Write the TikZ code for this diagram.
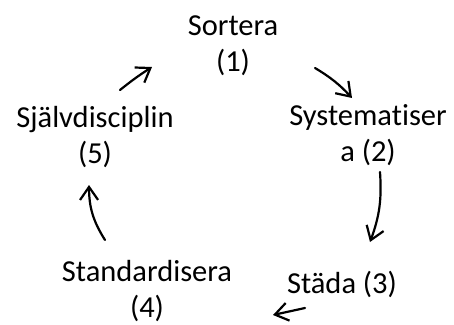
\documentclass[tikz,border=0pt]{standalone}
\usepackage{fontspec}
\setmainfont{Carlito}[Ligatures=NoCommon]
\usetikzlibrary{arrows.meta}
\begin{document}
\begin{tikzpicture}[x=1pt,y=-1pt,
  steptext/.style={font=\fontsize{30.5}{36}\selectfont, align=center, inner sep=0pt, anchor=base},
  cyc/.style={line width=2.2pt, line cap=round,
    -{Straight Barb[length=13pt,width=18pt,line width=2.2pt]}}]
\useasboundingbox (0,0) rectangle (454,324);

% the five steps (anchored at the baseline of the last line)
\node[steptext] (s1) at (233,71)  {Sortera\\(1)};
\node[steptext] (s2) at (368,161) {Systematiser\\a (2)};
\node[steptext] (s3) at (342,293) {Städa (3)};
\node[steptext] (s4) at (147,317) {Standardisera\\(4)};
\node[steptext] (s5) at (95,163)  {Självdisciplin\\(5)};

% arrow end points
\coordinate (a1s) at (315,68);  \coordinate (a1e) at (352,98);
\coordinate (a2s) at (380,172); \coordinate (a2e) at (370,242);
\coordinate (a3s) at (305,308); \coordinate (a3e) at (273,315);
\coordinate (a4s) at (105,240); \coordinate (a4e) at (89,185);
\coordinate (a5s) at (120,90);  \coordinate (a5e) at (152,67);

% clockwise cycle
\draw[cyc] (a1s) to[bend left=8]  (a1e);
\draw[cyc] (a2s) to[bend left=12] (a2e);
\draw[cyc] (a3s) -- (a3e);
\draw[cyc] (a4s) to[bend left=16] (a4e);
\draw[cyc] (a5s) to[bend left=3]  (a5e);
\end{tikzpicture}
\end{document}
